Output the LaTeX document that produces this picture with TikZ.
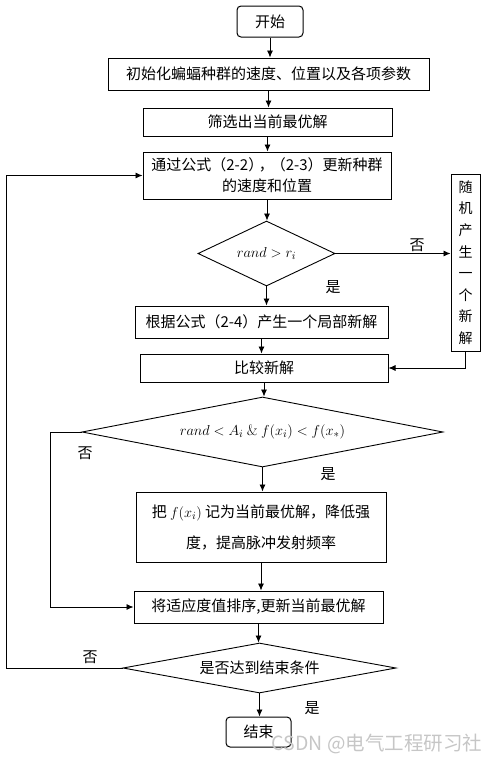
\documentclass[tikz,border=0pt]{standalone}
\usepackage{fontspec}
\newfontfamily\cjk{Noto Sans CJK SC}
\usetikzlibrary{shapes.geometric,arrows.meta,calc}

\tikzset{
	box/.style={draw,line width=1pt,inner sep=0pt,align=center,font=\cjk\fontsize{15}{21}\selectfont},
	rbox/.style={box,rounded corners=4pt},
	dia/.style={draw,diamond,line width=0.9pt,inner sep=0pt,font=\cjk\fontsize{15}{18}\selectfont},
	arr/.style={-{Latex[length=7pt,width=6pt]},line width=0.8pt},
	lbl/.style={inner sep=0pt,font=\cjk\fontsize{15}{18}\selectfont},
}

\begin{document}
\begin{tikzpicture}[x=1pt,y=-1pt]
	\useasboundingbox (0,0) rectangle (493,763);
	% main column
	\node[rbox,minimum width=66,minimum height=31] (start) at (270,21.5) {开始};
	\node[box,minimum width=321,minimum height=32] (init) at (268.5,74) {初始化蝙蝠种群的速度、位置以及各项参数};
	\node[box,minimum width=249,minimum height=28] (best) at (267.5,122) {筛选出当前最优解};
	\node[box,minimum width=248,minimum height=47] (update) at (267,175.5) {通过公式（2-2）\kern-.3em，\kern-.2em（2-3）更新种群\\的速度和位置};
	\node[dia,aspect=2.1,minimum width=137,minimum height=65] (d1) at (266.5,253.5) {$rand > r_i$};
	\node[box,minimum width=29,minimum height=177,font=\cjk\fontsize{14}{21.6}\selectfont] (rand) at (465.5,262.5) {随\\机\\产\\生\\一\\个\\新\\解};
	\node[box,minimum width=253,minimum height=32] (local) at (261.5,322) {根据公式（2-4）产生一个局部新解};
	\node[box,minimum width=248,minimum height=28] (cmp) at (264,368) {比较新解};
	\node[dia,aspect=5.2,minimum width=361,minimum height=70] (d2) at (262.5,432) {$rand < A_i \ \&\ f(x_i) < f(x_*)$};
	\node[box,minimum width=250,minimum height=70,font=\cjk\fontsize{15}{31}\selectfont] (rec) at (261,527) {把 $f(x_i)$ 记为当前最优解，降低强\\度，提高脉冲发射频率};
	\node[box,minimum width=249,minimum height=32] (sort) at (258.5,607) {将适应度值排序,更新当前最优解};
	\node[dia,aspect=5.5,minimum width=273,minimum height=50] (d3) at (259.5,668) {是否达到结束条件};
	\node[rbox,minimum width=65,minimum height=30] (stop) at (258.5,732) {结束};
	\coordinate (nl2) at (50,432);
	\coordinate (nl3) at (6,668);

	\draw[arr] (start) -- (start |- init.north);
	\draw[arr] (init) -- (init |- best.north);
	\draw[arr] (best) -- (best |- update.north);
	\draw[arr] (update) -- (update |- d1.north);
	\draw[arr] (d1) -- (d1 |- local.north);
	\draw[arr] (local) -- (local |- cmp.north);
	\draw[arr] (cmp) -- (cmp |- d2.north);
	\draw[arr] (d2) -- (d2 |- rec.north);
	\draw[arr] (rec) -- (rec |- sort.north);
	\draw[arr] (sort) -- (sort |- d3.north);
	\draw[arr] (d3) -- (d3 |- stop.north);
	% branches
	\draw[arr] (d1) -- (d1 -| rand.west);
	\draw[arr] (rand) |- (cmp.east);
	\draw[arr] (d2.west) -- (nl2) |- (sort.west);
	\draw[arr] (d3.west) -- (nl3) |- (update.west);

	\foreach \n/\x/\y/\t in {no1/417/245/否,yes1/333/287/是,no2/85/453/否,yes2/328/474/是,no3/90/657/否,yes3/312/708/是}
		\node[lbl] (\n) at (\x,\y) {\t};
	\node[inner sep=0pt,text=gray!45,font=\cjk\fontsize{19.5}{21}\selectfont] (mark) at (377,744) {CSDN @电气工程研习社};
\end{tikzpicture}
\end{document}
